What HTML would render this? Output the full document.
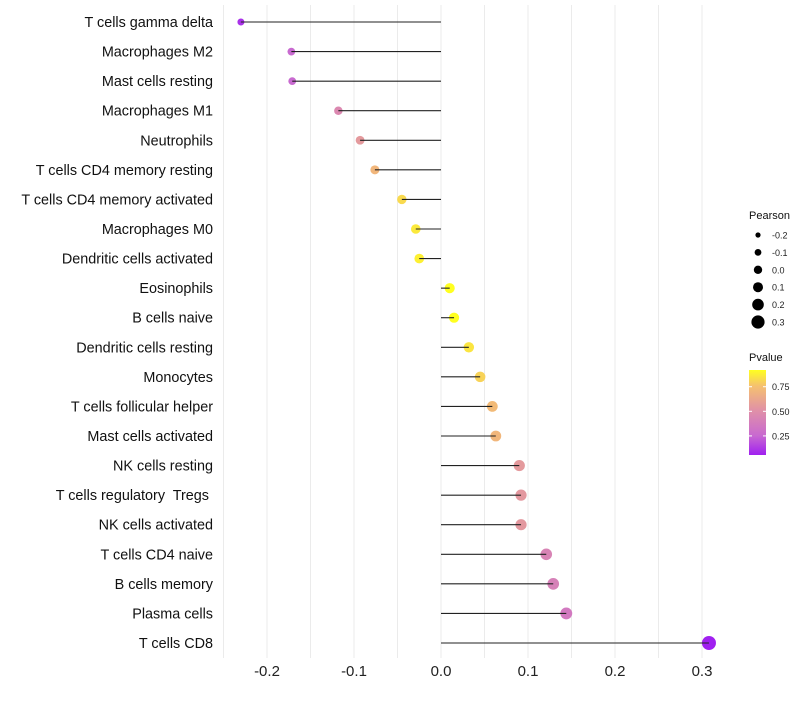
<!DOCTYPE html>
<html><head><meta charset="utf-8"><style>
body{margin:0;background:#fff;font-family:"Liberation Sans",sans-serif}
text{white-space:pre}
</style></head><body>
<svg id="c" width="800" height="700" xmlns="http://www.w3.org/2000/svg">
<defs><linearGradient id="pg" x1="0" y1="1" x2="0" y2="0">
<stop offset="0" stop-color="#a020f0"/><stop offset="0.23" stop-color="#c86ad0"/>
<stop offset="0.52" stop-color="#e090a8"/><stop offset="0.81" stop-color="#f5c070"/><stop offset="1" stop-color="#ffff20"/></linearGradient></defs>
</svg>
<script>
const categories=["T cells gamma delta","Macrophages M2","Mast cells resting","Macrophages M1","Neutrophils","T cells CD4 memory resting","T cells CD4 memory activated","Macrophages M0","Dendritic cells activated","Eosinophils","B cells naive","Dendritic cells resting","Monocytes","T cells follicular helper","Mast cells activated","NK cells resting","T cells regulatory  Tregs ","NK cells activated","T cells CD4 naive","B cells memory","Plasma cells","T cells CD8"];
const pearson=[-0.23,-0.172,-0.171,-0.118,-0.093,-0.076,-0.045,-0.029,-0.025,0.010,0.015,0.032,0.045,0.059,0.063,0.090,0.092,0.092,0.121,0.129,0.144,0.308];
const pvalues=[0.1,0.25,0.25,0.45,0.55,0.7,0.82,0.86,0.88,0.96,0.93,0.85,0.8,0.72,0.7,0.55,0.54,0.54,0.42,0.4,0.35,0.05];
const xTicks=[-0.2,-0.1,0.0,0.1,0.2,0.3];
const xTickLabels=["-0.2","-0.1","0.0","0.1","0.2","0.3"];
const sizeLegend=[-0.2,-0.1,0.0,0.1,0.2,0.3];
const sizeLegendLabels=["-0.2","-0.1","0.0","0.1","0.2","0.3"];
const pLegend=[0.75,0.5,0.25];
const pLegendLabels=["0.75","0.50","0.25"];
const svg=document.getElementById('c');const NS="http://www.w3.org/2000/svg";
function x(v){return 441+v*870;}
function y(i){return 22+i*(621/21);}
function r(v){return Math.max(2.2,5+6.5*v);}
function rl(v){return 4.2+8*v;}
const stops=[[0.056,[160,32,240]],[0.25,[200,106,208]],[0.5,[224,144,168]],[0.75,[245,192,112]],[0.92,[255,255,32]]];
function col(p){p=Math.max(0.056,Math.min(0.92,p));for(let k=0;k<stops.length-1;k++){const a=stops[k],b=stops[k+1];if(p<=b[0]){const t=(p-a[0])/(b[0]-a[0]);return 'rgb('+a[1].map((c,j)=>Math.round(c+(b[1][j]-c)*t)).join(',')+')';}}return 'rgb(255,255,32)';}
function el(t,a,p){const e=document.createElementNS(NS,t);for(const k in a)e.setAttribute(k,a[k]);(p||svg).appendChild(e);return e;}
for(let v=-0.25;v<=0.3001;v+=0.05){const g=el('line',{x1:x(v),x2:x(v),y1:5,y2:658,stroke:'#ebebeb','stroke-width':1});

}
xTicks.forEach((v,i)=>{const t=el('text',{x:x(v),y:676,'text-anchor':'middle','font-size':15,fill:'#222'});t.textContent=xTickLabels[i];

});
categories.forEach((c,i)=>{
const t=el('text',{x:213,y:y(i)+5,'text-anchor':'end','font-size':14.4,fill:'#111'});t.textContent=c;


const ci=el('circle',{cx:x(pearson[i]),cy:y(i),r:r(pearson[i]),fill:col(pvalues[i])});


const l=el('line',{x1:x(0),x2:x(pearson[i]),y1:y(i),y2:y(i),stroke:'#222','stroke-width':1.1});


});
let lt=el('text',{x:749,y:219,'font-size':11,fill:'#111'});lt.textContent='Pearson';


sizeLegend.forEach((v,i)=>{const cy=235+i*17.4;const c=el('circle',{cx:758,cy:cy,r:rl(v),fill:'#000'});


const t=el('text',{x:772,y:cy+3.5,'font-size':9,fill:'#222'});t.textContent=sizeLegendLabels[i];

});
lt=el('text',{x:749,y:361,'font-size':11,fill:'#111'});lt.textContent='Pvalue';


const bar=el('rect',{x:749,y:370,width:17,height:85,fill:'url(#pg)'});


pLegend.forEach((p,i)=>{const yy=455-(p-0.056)/(0.92-0.056)*85;
el('line',{x1:749,x2:752,y1:yy,y2:yy,stroke:'#fff'});el('line',{x1:763,x2:766,y1:yy,y2:yy,stroke:'#fff'});
const t=el('text',{x:772,y:yy+3.5,'font-size':9,fill:'#222'});t.textContent=pLegendLabels[i];

});
</script>
</body></html>
